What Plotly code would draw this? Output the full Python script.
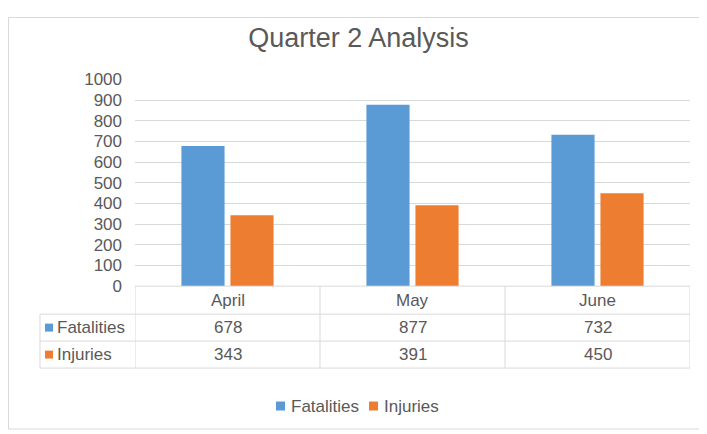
import plotly.graph_objects as go

# ---- data ----
months = ["April", "May", "June"]
fatalities = [678, 877, 732]
injuries = [343, 391, 450]
series_names = ["Fatalities", "Injuries"]
y_ticks = [0, 100, 200, 300, 400, 500, 600, 700, 800, 900, 1000]

# ---- style ----
OFFX = 8                 # page offset (x)
OFFY, SY = 15.5, 0.958   # page offset / scale (y)
W, H = 699, 440
BLUE = "#5B9BD5"
ORANGE = "#ED7D31"
GRAY = "#595959"
LINE = "#D9D9D9"
FONT = "Liberation Sans, Arial, sans-serif"

X0, X1 = 135, 690        # plot area, reference px
Y0, Y1 = 285, 78         # y of 0 and 1000, reference px
TL = 40                  # table left edge
ROWS = [285, 313, 340, 367]
FS = 17


def px(x):
    return (x - OFFX) / W


def py(y):
    return 1 - ((y - OFFY) / SY) / H


fig = go.Figure()
fig.add_bar(x=months, y=fatalities, name=series_names[0], showlegend=False,
            marker=dict(color=BLUE, line=dict(width=0)))
fig.add_bar(x=months, y=injuries, name=series_names[1], showlegend=False,
            marker=dict(color=ORANGE, line=dict(width=0)))

shapes = []
# outer border
shapes.append(dict(type="rect", xref="paper", yref="paper",
                   x0=0.5 / W, x1=px(705), y0=py(428), y1=1 - 0.5 / H,
                   line=dict(color=LINE, width=1), layer="below"))
# table horizontal lines
shapes.append(dict(type="line", xref="paper", yref="paper",
                   x0=px(X0), x1=px(X1), y0=py(ROWS[0]), y1=py(ROWS[0]),
                   line=dict(color=LINE, width=1)))
for r in ROWS[1:]:
    shapes.append(dict(type="line", xref="paper", yref="paper",
                       x0=px(TL), x1=px(X1), y0=py(r), y1=py(r),
                       line=dict(color=LINE, width=1)))
# table vertical lines (category boundaries, in axis units)
n = len(months)
for b in [i - 0.5 for i in range(n + 1)]:
    shapes.append(dict(type="line", xref="x", yref="paper",
                       x0=b, x1=b, y0=py(ROWS[-1]), y1=py(ROWS[0]),
                       line=dict(color=LINE, width=1)))
shapes.append(dict(type="line", xref="paper", yref="paper",
                   x0=px(TL), x1=px(TL), y0=py(ROWS[-1]), y1=py(ROWS[1]),
                   line=dict(color=LINE, width=1)))

annotations = []
for m in months:
    annotations.append(dict(x=m, xref="x", y=py((ROWS[0] + ROWS[1]) / 2), yref="paper",
                            text=m, showarrow=False, font=dict(size=FS, color=GRAY, family=FONT),
                            xanchor="center", yanchor="middle"))
colors = [BLUE, ORANGE]
series_vals = [fatalities, injuries]
for k, (name, vals, col) in enumerate(zip(series_names, series_vals, colors)):
    yc = (ROWS[k + 1] + ROWS[k + 2]) / 2
    for m, v in zip(months, vals):
        annotations.append(dict(x=m, xref="x", y=py(yc), yref="paper",
                                text=str(v), showarrow=False,
                                font=dict(size=FS, color=GRAY, family=FONT),
                                xanchor="center", yanchor="middle"))
    shapes.append(dict(type="rect", xref="paper", yref="paper",
                       x0=px(45), x1=px(53), y0=py(yc + 4), y1=py(yc - 4),
                       fillcolor=col, line=dict(width=0)))
    annotations.append(dict(x=px(57), xref="paper", y=py(yc), yref="paper",
                            text=name, showarrow=False,
                            font=dict(size=FS, color=GRAY, family=FONT),
                            xanchor="left", yanchor="middle", xshift=-2))

# manual legend (Excel style)
LEG_Y = 405
leg_x = [276, 369]
for name, col, lx in zip(series_names, colors, leg_x):
    shapes.append(dict(type="rect", xref="paper", yref="paper",
                       x0=px(lx), x1=px(lx + 9), y0=py(LEG_Y + 4.5), y1=py(LEG_Y - 4.5),
                       fillcolor=col, line=dict(width=0)))
    annotations.append(dict(x=px(lx + 15), xref="paper", y=py(LEG_Y), yref="paper",
                            text=name, showarrow=False,
                            font=dict(size=FS, color=GRAY, family=FONT),
                            xanchor="left", yanchor="middle", xshift=-2))

fig.update_layout(
    width=W, height=H,
    margin=dict(l=0, r=0, t=0, b=0),
    paper_bgcolor="white", plot_bgcolor="white",
    font=dict(family=FONT, color=GRAY, size=FS),
    title=dict(text="Quarter 2 Analysis", x=px(358.5), xanchor="center",
               y=py(36), yanchor="middle", yref="paper",
               font=dict(size=27, color=GRAY, family=FONT)),
    barmode="group", bargap=0.47, bargroupgap=0.12,
    showlegend=False,
    xaxis=dict(domain=[px(X0), px(X1)], showticklabels=False, showgrid=False,
               zeroline=False, showline=False, ticks="", range=[-0.5, n - 0.5]),
    yaxis=dict(domain=[py(Y0), py(Y1)], range=[0, 1000], tickvals=y_ticks,
               showgrid=True, gridcolor=LINE, gridwidth=1, zeroline=False,
               showline=False, ticks="", ticklabelstandoff=12,
               tickfont=dict(size=FS, color=GRAY, family=FONT)),
    shapes=shapes,
    annotations=annotations,
)

fig.write_html("out.html")
